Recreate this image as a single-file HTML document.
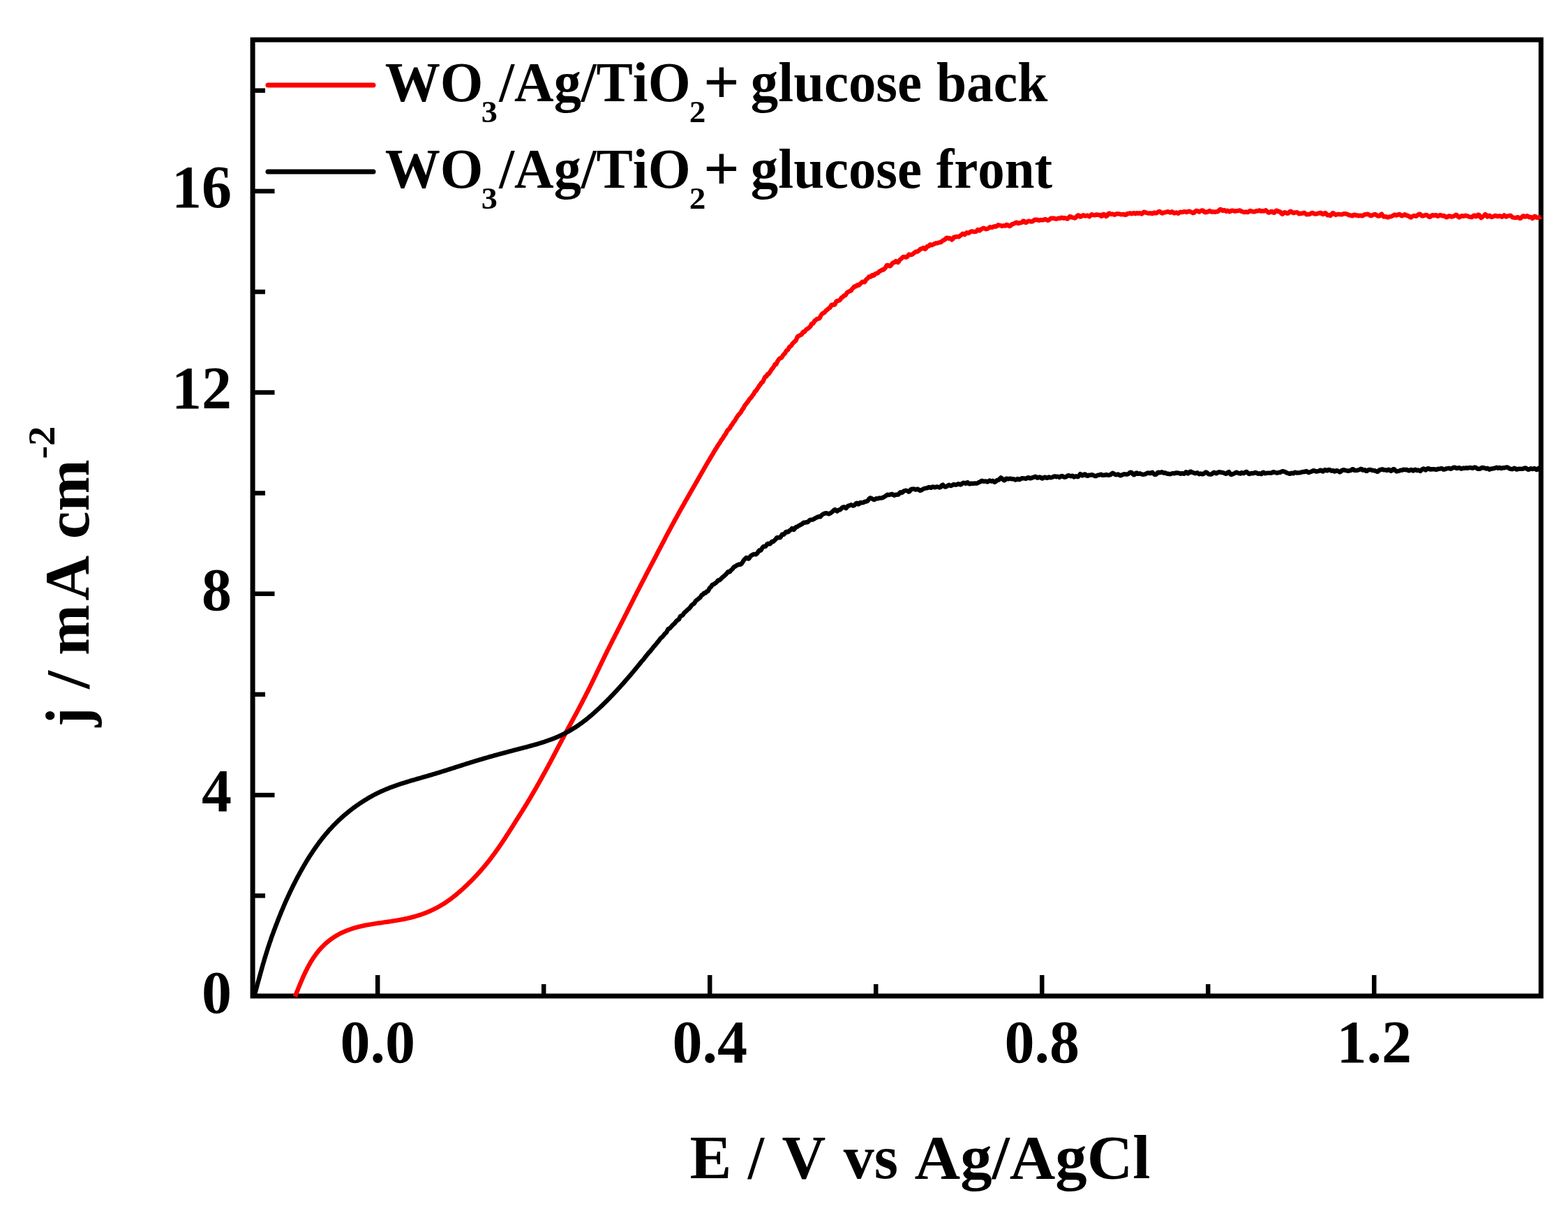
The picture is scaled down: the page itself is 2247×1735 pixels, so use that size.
<!DOCTYPE html>
<html><head><meta charset="utf-8"><title>WO3/Ag/TiO2 glucose LSV</title>
<style>
html,body{margin:0;padding:0;background:#fff;}
body{width:2247px;height:1735px;overflow:hidden;}
svg{display:block;}
text{font-family:"Liberation Serif","Times New Roman",serif;font-weight:bold;fill:#000;font-kerning:none;}
</style></head><body>
<svg xmlns="http://www.w3.org/2000/svg" width="2247" height="1735" viewBox="0 0 2247 1735">
<rect x="0" y="0" width="2247" height="1735" fill="#fff"/>
<g stroke="#000" stroke-width="6.5" fill="none">
<line x1="541.2" y1="1427.0" x2="541.2" y2="1397" />
<line x1="1017.2" y1="1427.0" x2="1017.2" y2="1397" />
<line x1="1493.2" y1="1427.0" x2="1493.2" y2="1397" />
<line x1="1969.2" y1="1427.0" x2="1969.2" y2="1397" />
<line x1="779.2" y1="1427.0" x2="779.2" y2="1410" />
<line x1="1255.2" y1="1427.0" x2="1255.2" y2="1410" />
<line x1="1731.2" y1="1427.0" x2="1731.2" y2="1410" />
<line x1="362.1" y1="1139.1" x2="393.5" y2="1139.1" />
<line x1="362.1" y1="850.7" x2="393.5" y2="850.7" />
<line x1="362.1" y1="562.3" x2="393.5" y2="562.3" />
<line x1="362.1" y1="273.9" x2="393.5" y2="273.9" />
<line x1="362.1" y1="1283.3" x2="380" y2="1283.3" />
<line x1="362.1" y1="994.9" x2="380" y2="994.9" />
<line x1="362.1" y1="706.5" x2="380" y2="706.5" />
<line x1="362.1" y1="418.1" x2="380" y2="418.1" />
<line x1="362.1" y1="129.7" x2="380" y2="129.7" />
</g>
<rect x="362.1" y="57.0" width="1846.2" height="1370.0" fill="none" stroke="#000" stroke-width="7"/>
<g fill="none" stroke-linejoin="round" stroke-linecap="butt">
<polyline points="422.8,1427.7 423.4,1426.3 423.9,1424.9 424.5,1423.5 425.1,1422.1 425.6,1420.7 426.2,1419.3 426.8,1417.9 427.3,1416.5 427.9,1415.1 428.5,1413.7 429.0,1412.3 429.6,1410.9 430.2,1409.5 430.8,1408.1 431.4,1406.7 432.0,1405.3 432.6,1403.9 433.2,1402.5 433.8,1401.1 434.4,1399.7 435.0,1398.4 435.6,1397.0 436.3,1395.6 436.9,1394.3 437.6,1392.9 438.2,1391.5 438.9,1390.2 439.6,1388.9 440.3,1387.5 440.9,1386.2 441.6,1384.9 442.4,1383.5 443.1,1382.2 443.8,1380.9 444.6,1379.6 445.3,1378.3 446.1,1377.0 446.9,1375.8 447.7,1374.5 448.5,1373.3 449.3,1372.0 450.1,1370.8 451.0,1369.6 451.9,1368.4 452.7,1367.2 453.6,1366.0 454.5,1364.8 455.5,1363.7 456.4,1362.5 457.3,1361.4 458.3,1360.3 459.3,1359.2 460.3,1358.1 461.3,1357.0 462.3,1356.0 463.4,1355.0 464.4,1353.9 465.5,1352.9 466.6,1351.9 467.6,1351.0 468.8,1350.0 469.9,1349.1 471.0,1348.1 472.2,1347.2 473.3,1346.3 474.5,1345.5 475.7,1344.6 476.9,1343.8 478.1,1343.0 479.3,1342.2 480.6,1341.4 481.8,1340.6 483.1,1339.9 484.4,1339.2 485.6,1338.5 486.9,1337.8 488.2,1337.1 489.6,1336.5 490.9,1335.9 492.2,1335.2 493.6,1334.7 494.9,1334.1 496.3,1333.5 497.7,1333.0 499.1,1332.4 500.5,1331.9 501.9,1331.4 503.3,1331.0 504.7,1330.5 506.1,1330.0 507.5,1329.6 508.9,1329.2 510.4,1328.8 511.8,1328.4 513.3,1328.0 514.7,1327.7 516.2,1327.3 517.7,1327.0 519.1,1326.6 520.6,1326.3 522.1,1326.0 523.5,1325.7 525.0,1325.4 526.5,1325.2 528.0,1324.9 529.5,1324.6 531.0,1324.4 532.5,1324.1 534.0,1323.9 535.5,1323.6 537.0,1323.4 538.5,1323.2 540.0,1322.9 541.5,1322.7 543.0,1322.5 544.5,1322.3 546.0,1322.1 547.5,1321.8 549.0,1321.6 550.5,1321.4 552.0,1321.2 553.5,1321.0 555.0,1320.8 556.5,1320.5 558.0,1320.3 559.5,1320.1 561.0,1319.9 562.5,1319.6 564.0,1319.4 565.5,1319.2 567.0,1318.9 568.5,1318.7 570.0,1318.4 571.5,1318.2 572.9,1317.9 574.4,1317.7 575.9,1317.4 577.4,1317.1 578.9,1316.8 580.3,1316.5 581.8,1316.2 583.3,1315.9 584.7,1315.5 586.2,1315.2 587.7,1314.8 589.1,1314.5 590.6,1314.1 592.0,1313.7 593.5,1313.3 594.9,1312.9 596.3,1312.5 597.8,1312.1 599.2,1311.6 600.6,1311.2 602.0,1310.7 603.4,1310.3 604.8,1309.8 606.2,1309.3 607.6,1308.7 609.0,1308.2 610.4,1307.7 611.8,1307.1 613.2,1306.6 614.5,1306.0 615.9,1305.4 617.3,1304.8 618.6,1304.2 619.9,1303.5 621.3,1302.9 622.6,1302.2 623.9,1301.6 625.3,1300.9 626.6,1300.2 627.9,1299.5 629.2,1298.8 630.5,1298.0 631.7,1297.3 633.0,1296.5 634.3,1295.8 635.6,1295.0 636.8,1294.2 638.1,1293.4 639.3,1292.5 640.5,1291.7 641.7,1290.9 643.0,1290.0 644.2,1289.1 645.4,1288.3 646.6,1287.4 647.8,1286.5 648.9,1285.5 650.1,1284.6 651.3,1283.7 652.5,1282.8 653.6,1281.8 654.8,1280.9 655.9,1279.9 657.1,1278.9 658.2,1277.9 659.3,1277.0 660.4,1276.0 661.6,1275.0 662.7,1274.0 663.8,1273.0 664.9,1271.9 666.0,1270.9 667.1,1269.9 668.2,1268.9 669.3,1267.8 670.4,1266.8 671.4,1265.7 672.5,1264.7 673.6,1263.6 674.7,1262.6 675.7,1261.5 676.8,1260.4 677.8,1259.4 678.9,1258.3 679.9,1257.2 680.9,1256.1 682.0,1255.0 683.0,1253.9 684.0,1252.8 685.0,1251.7 686.0,1250.6 687.0,1249.5 688.0,1248.4 689.0,1247.2 690.0,1246.1 691.0,1245.0 692.0,1243.8 692.9,1242.7 693.9,1241.5 694.9,1240.4 695.8,1239.2 696.8,1238.1 697.7,1236.9 698.7,1235.7 699.6,1234.6 700.5,1233.4 701.5,1232.2 702.4,1231.0 703.3,1229.8 704.2,1228.6 705.1,1227.4 706.0,1226.2 706.9,1225.0 707.8,1223.8 708.7,1222.6 709.6,1221.4 710.4,1220.2 711.3,1219.0 712.2,1217.7 713.0,1216.5 713.9,1215.3 714.8,1214.1 715.6,1212.8 716.5,1211.6 717.3,1210.3 718.2,1209.1 719.0,1207.9 719.8,1206.6 720.7,1205.4 721.5,1204.1 722.3,1202.9 723.2,1201.6 724.0,1200.4 724.8,1199.1 725.6,1197.8 726.4,1196.6 727.2,1195.3 728.1,1194.1 728.9,1192.8 729.7,1191.5 730.5,1190.3 731.3,1189.0 732.1,1187.7 732.9,1186.5 733.7,1185.2 734.5,1183.9 735.3,1182.7 736.1,1181.4 736.9,1180.1 737.7,1178.9 738.5,1177.6 739.3,1176.3 740.1,1175.1 740.9,1173.8 741.7,1172.5 742.5,1171.3 743.3,1170.0 744.1,1168.7 744.9,1167.4 745.7,1166.2 746.5,1164.9 747.3,1163.6 748.1,1162.4 748.9,1161.1 749.7,1159.8 750.5,1158.5 751.3,1157.3 752.1,1156.0 752.8,1154.7 753.6,1153.4 754.4,1152.2 755.2,1150.9 756.0,1149.6 756.7,1148.3 757.5,1147.0 758.3,1145.7 759.1,1144.5 759.8,1143.2 760.6,1141.9 761.3,1140.6 762.1,1139.3 762.9,1138.0 763.6,1136.7 764.4,1135.4 765.1,1134.1 765.9,1132.8 766.6,1131.5 767.4,1130.2 768.1,1128.9 768.9,1127.6 769.6,1126.3 770.3,1125.0 771.1,1123.7 771.8,1122.4 772.6,1121.1 773.3,1119.8 774.0,1118.5 774.8,1117.2 775.5,1115.9 776.2,1114.6 776.9,1113.2 777.7,1111.9 778.4,1110.6 779.1,1109.3 779.8,1108.0 780.6,1106.7 781.3,1105.4 782.0,1104.0 782.7,1102.7 783.4,1101.4 784.2,1100.1 784.9,1098.8 785.6,1097.5 786.3,1096.1 787.0,1094.8 787.7,1093.5 788.4,1092.2 789.1,1090.9 789.8,1089.5 790.5,1088.2 791.2,1086.9 791.9,1085.6 792.6,1084.2 793.3,1082.9 794.0,1081.6 794.7,1080.3 795.4,1078.9 796.1,1077.6 796.8,1076.3 797.5,1074.9 798.2,1073.6 798.9,1072.3 799.6,1071.0 800.3,1069.6 801.0,1068.3 801.7,1067.0 802.4,1065.6 803.1,1064.3 803.8,1063.0 804.5,1061.7 805.2,1060.3 805.9,1059.0 806.6,1057.7 807.3,1056.4 808.0,1055.0 808.7,1053.7 809.4,1052.4 810.1,1051.1 810.8,1049.7 811.5,1048.4 812.2,1047.1 812.9,1045.8 813.6,1044.5 814.3,1043.1 815.1,1041.8 815.8,1040.5 816.5,1039.2 817.2,1037.9 817.9,1036.5 818.6,1035.2 819.3,1033.9 820.1,1032.6 820.8,1031.3 821.5,1030.0 822.2,1028.6 822.9,1027.3 823.6,1026.0 824.3,1024.7 825.1,1023.4 825.8,1022.0 826.5,1020.7 827.2,1019.4 827.9,1018.1 828.6,1016.8 829.3,1015.4 830.0,1014.1 830.7,1012.8 831.4,1011.4 832.1,1010.1 832.8,1008.8 833.5,1007.5 834.2,1006.1 834.9,1004.8 835.6,1003.5 836.2,1002.1 836.9,1000.8 837.6,999.5 838.3,998.1 839.0,996.8 839.7,995.5 840.3,994.1 841.0,992.8 841.7,991.5 842.4,990.1 843.0,988.8 843.7,987.4 844.4,986.1 845.0,984.7 845.7,983.4 846.4,982.1 847.0,980.7 847.7,979.4 848.4,978.0 849.0,976.7 849.7,975.3 850.3,974.0 851.0,972.6 851.6,971.3 852.3,969.9 852.9,968.6 853.6,967.2 854.2,965.9 854.9,964.5 855.5,963.2 856.2,961.8 856.8,960.5 857.5,959.1 858.1,957.8 858.8,956.4 859.4,955.0 860.1,953.7 860.7,952.3 861.4,951.0 862.0,949.6 862.7,948.3 863.3,946.9 864.0,945.6 864.6,944.2 865.3,942.9 865.9,941.5 866.6,940.2 867.2,938.8 867.9,937.5 868.6,936.2 869.2,934.8 869.9,933.5 870.5,932.1 871.2,930.8 871.9,929.4 872.6,928.1 873.2,926.8 873.9,925.4 874.6,924.1 875.2,922.7 875.9,921.4 876.6,920.1 877.3,918.7 877.9,917.4 878.6,916.0 879.3,914.7 880.0,913.4 880.7,912.0 881.3,910.7 882.0,909.4 882.7,908.0 883.4,906.7 884.1,905.4 884.7,904.0 885.4,902.7 886.1,901.3 886.8,900.0 887.5,898.7 888.2,897.3 888.8,896.0 889.5,894.7 890.2,893.3 890.9,892.0 891.6,890.7 892.2,889.3 892.9,888.0 893.6,886.7 894.3,885.3 895.0,884.0 895.6,882.6 896.3,881.3 897.0,880.0 897.7,878.6 898.3,877.3 899.0,876.0 899.7,874.6 900.4,873.3 901.0,871.9 901.7,870.6 902.4,869.3 903.1,867.9 903.7,866.6 904.4,865.2 905.1,863.9 905.8,862.6 906.4,861.2 907.1,859.9 907.8,858.6 908.5,857.2 909.1,855.9 909.8,854.5 910.5,853.2 911.2,851.9 911.9,850.5 912.5,849.2 913.2,847.9 913.9,846.5 914.6,845.2 915.3,843.9 916.0,842.5 916.7,841.2 917.3,839.9 918.0,838.5 918.7,837.2 919.4,835.9 920.1,834.5 920.8,833.2 921.5,831.9 922.2,830.5 922.9,829.2 923.6,827.9 924.3,826.5 925.0,825.2 925.6,823.9 926.3,822.6 927.0,821.2 927.7,819.9 928.4,818.6 929.1,817.2 929.8,815.9 930.5,814.6 931.2,813.3 931.9,811.9 932.6,810.6 933.3,809.3 934.0,807.9 934.7,806.6 935.4,805.3 936.1,804.0 936.8,802.6 937.5,801.3 938.2,800.0 938.9,798.7 939.6,797.3 940.3,796.0 941.0,794.7 941.7,793.3 942.4,792.0 943.0,790.7 943.7,789.3 944.4,788.0 945.1,786.7 945.8,785.4 946.5,784.0 947.2,782.7 947.9,781.4 948.6,780.0 949.3,778.7 950.0,777.4 950.7,776.1 951.4,774.7 952.1,773.4 952.8,772.1 953.4,770.7 954.1,769.4 954.8,768.1 955.5,766.8 956.2,765.4 956.9,764.1 957.6,762.8 958.4,761.5 959.1,760.1 959.8,758.8 960.5,757.5 961.2,756.2 961.9,754.8 962.6,753.5 963.3,752.2 964.0,750.9 964.7,749.6 965.5,748.3 966.2,746.9 966.9,745.6 967.6,744.3 968.4,743.0 969.1,741.7 969.8,740.4 970.5,739.1 971.3,737.7 972.0,736.4 972.7,735.1 973.4,733.8 974.2,732.5 974.9,731.2 975.6,729.9 976.4,728.6 977.1,727.3 977.9,726.0 978.6,724.7 979.3,723.4 980.1,722.1 980.8,720.8 981.6,719.4 982.3,718.1 983.0,716.8 983.8,715.5 984.5,714.2 985.3,712.9 986.0,711.6 986.8,710.3 987.5,709.0 988.2,707.7 989.0,706.4 989.7,705.1 990.5,703.8 991.2,702.5 992.0,701.2 992.7,699.9 993.5,698.6 994.2,697.3 995.0,696.0 995.7,694.7 996.4,693.4 997.2,692.1 997.9,690.8 998.7,689.5 999.4,688.2 1000.2,686.9 1000.9,685.6 1001.7,684.3 1002.4,683.0 1003.1,681.7 1003.9,680.4 1004.6,679.1 1005.4,677.8 1006.1,676.4 1006.9,675.1 1007.6,673.9 1008.4,672.6 1009.1,671.2 1009.8,670.0 1010.6,668.7 1011.3,667.4 1012.1,666.0 1012.8,664.8 1013.6,663.6 1014.3,662.2 1015.1,660.9 1015.9,659.7 1016.6,658.5 1017.4,657.2 1018.1,655.8 1018.9,654.4 1019.7,653.2 1020.4,651.9 1021.2,650.8 1022.0,649.7 1022.7,648.2 1023.5,646.8 1024.3,645.5 1025.1,644.1 1025.9,643.0 1026.7,641.8 1027.5,640.4 1028.3,639.0 1029.1,637.7 1029.9,636.5 1030.7,635.4 1031.5,634.4 1032.3,633.1 1033.1,631.5 1033.9,630.2 1034.7,629.4 1035.6,628.3 1036.4,626.8 1037.2,625.4 1038.1,624.1 1038.9,622.9 1039.7,621.9 1040.6,620.4 1041.4,618.7 1042.2,617.2 1043.1,616.0 1043.9,615.3 1044.8,614.6 1045.6,613.7 1046.5,612.3 1047.3,610.6 1048.2,609.3 1049.0,608.4 1049.9,607.0 1050.7,605.6 1051.6,604.5 1052.4,603.5 1053.3,602.3 1054.2,600.7 1055.0,599.2 1055.9,597.9 1056.7,596.6 1057.6,595.3 1058.5,594.3 1059.3,593.4 1060.2,592.4 1061.1,591.4 1061.9,590.2 1062.8,588.5 1063.7,586.9 1064.5,586.0 1065.4,584.9 1066.3,582.9 1067.1,581.4 1068.0,580.2 1068.9,579.1 1069.7,578.0 1070.6,576.9 1071.5,575.8 1072.4,574.4 1073.2,573.2 1074.1,572.0 1075.0,570.9 1075.9,570.2 1076.7,569.1 1077.6,567.7 1078.5,566.4 1079.4,565.4 1080.3,564.3 1081.1,562.3 1082.0,560.8 1082.9,560.3 1083.8,559.5 1084.7,558.1 1085.5,556.8 1086.4,555.5 1087.3,554.0 1088.2,552.5 1089.1,551.5 1090.0,550.5 1090.8,548.9 1091.7,547.9 1092.6,547.7 1093.5,546.4 1094.4,544.3 1095.3,542.3 1096.2,540.2 1097.0,539.4 1097.9,539.5 1098.8,538.5 1099.7,536.3 1100.6,535.6 1101.5,535.8 1102.4,534.6 1103.3,533.1 1104.2,531.9 1105.1,530.2 1106.0,528.9 1106.9,528.2 1107.8,526.8 1108.7,525.3 1109.6,524.1 1110.5,522.0 1111.4,521.6 1112.3,521.9 1113.2,520.1 1114.1,518.0 1115.1,516.4 1116.0,515.0 1116.9,513.9 1117.9,513.1 1118.8,513.1 1119.7,512.7 1120.7,511.5 1121.6,509.9 1122.6,508.3 1123.6,507.4 1124.5,506.6 1125.5,505.1 1126.5,503.1 1127.4,502.1 1128.4,501.8 1129.4,500.6 1130.4,498.6 1131.4,496.9 1132.4,496.2 1133.4,495.8 1134.4,494.6 1135.4,492.7 1136.4,491.6 1137.5,490.6 1138.5,489.4 1139.5,488.9 1140.5,487.8 1141.6,485.4 1142.6,482.8 1143.6,481.7 1144.7,481.5 1145.7,480.8 1146.8,480.1 1147.8,479.8 1148.9,479.0 1150.0,476.8 1151.0,475.6 1152.1,475.9 1153.1,475.2 1154.2,473.7 1155.3,472.2 1156.4,471.5 1157.4,471.1 1158.5,470.2 1159.6,469.1 1160.7,468.3 1161.7,467.0 1162.8,464.3 1163.9,463.4 1165.0,463.6 1166.1,462.1 1167.2,459.9 1168.3,458.9 1169.4,458.5 1170.5,457.1 1171.6,456.7 1172.7,456.6 1173.8,456.3 1174.9,455.1 1176.0,452.6 1177.1,450.8 1178.2,449.6 1179.3,448.7 1180.4,448.6 1181.5,447.9 1182.6,446.3 1183.8,445.0 1184.9,444.1 1186.0,443.3 1187.1,442.1 1188.2,441.3 1189.4,440.9 1190.5,438.7 1191.6,436.8 1192.8,437.2 1193.9,436.5 1195.0,436.1 1196.2,436.5 1197.3,434.4 1198.5,431.6 1199.6,431.1 1200.8,431.0 1201.9,430.5 1203.1,430.4 1204.2,429.2 1205.4,427.0 1206.5,426.2 1207.7,425.7 1208.9,424.1 1210.0,423.2 1211.2,423.2 1212.4,421.7 1213.6,419.5 1214.8,418.5 1215.9,418.2 1217.1,417.3 1218.3,416.9 1219.5,416.5 1220.7,414.5 1221.9,413.1 1223.1,412.2 1224.3,410.3 1225.5,410.1 1226.7,410.2 1227.9,408.7 1229.1,408.2 1230.4,408.8 1231.6,408.0 1232.8,406.6 1234.0,405.4 1235.3,404.3 1236.5,403.6 1237.7,403.9 1239.0,404.2 1240.2,402.5 1241.4,400.3 1242.7,399.4 1243.9,398.2 1245.2,396.5 1246.4,396.5 1247.7,396.6 1249.0,394.7 1250.2,394.0 1251.5,395.0 1252.8,394.3 1254.0,392.6 1255.3,392.1 1256.6,391.6 1257.9,391.3 1259.1,390.1 1260.4,388.6 1261.7,388.3 1263.0,387.3 1264.3,386.5 1265.6,386.6 1266.9,385.6 1268.2,384.4 1269.5,382.4 1270.8,380.2 1272.1,379.9 1273.4,380.6 1274.7,381.3 1276.0,381.1 1277.3,379.3 1278.7,377.3 1280.0,376.1 1281.3,376.1 1282.6,375.1 1283.9,374.0 1285.3,375.0 1286.6,376.0 1287.9,374.9 1289.3,372.5 1290.6,371.3 1291.9,370.4 1293.3,368.9 1294.6,368.0 1295.9,368.0 1297.3,368.4 1298.6,368.7 1300.0,368.0 1301.3,365.9 1302.7,364.5 1304.0,364.9 1305.4,365.0 1306.7,364.8 1308.1,364.0 1309.5,362.7 1310.8,361.8 1312.2,360.7 1313.5,360.5 1314.9,360.5 1316.3,359.5 1317.6,358.2 1319.0,356.8 1320.4,356.4 1321.8,356.2 1323.2,355.0 1324.5,355.5 1325.9,356.8 1327.3,355.4 1328.7,353.0 1330.1,352.8 1331.5,352.4 1332.9,350.4 1334.3,350.5 1335.6,351.2 1337.0,350.5 1338.4,349.7 1339.8,348.8 1341.2,348.5 1342.7,348.4 1344.1,347.9 1345.5,347.4 1346.9,347.3 1348.3,347.1 1349.7,345.8 1351.1,344.6 1352.5,344.2 1353.9,343.3 1355.4,341.7 1356.8,340.6 1358.2,341.1 1359.6,341.8 1361.0,341.3 1362.5,341.9 1363.9,343.5 1365.3,342.4 1366.7,340.0 1368.2,339.5 1369.6,339.6 1371.0,339.0 1372.5,339.1 1373.9,339.2 1375.3,338.3 1376.8,337.1 1378.2,336.1 1379.6,334.8 1381.1,335.1 1382.5,336.1 1383.9,334.9 1385.4,333.3 1386.8,333.8 1388.2,334.0 1389.7,332.8 1391.1,331.8 1392.6,331.4 1394.0,331.6 1395.4,332.1 1396.9,332.1 1398.3,331.9 1399.8,330.7 1401.2,329.1 1402.7,329.9 1404.1,330.4 1405.6,328.8 1407.0,327.9 1408.5,327.2 1409.9,326.8 1411.4,327.6 1412.9,328.2 1414.3,328.0 1415.8,327.5 1417.2,326.5 1418.7,325.3 1420.2,325.8 1421.6,325.9 1423.1,325.1 1424.6,324.4 1426.0,324.3 1427.5,324.6 1429.0,323.3 1430.4,322.3 1431.9,322.8 1433.4,322.9 1434.9,323.5 1436.3,324.0 1437.8,323.2 1439.3,323.4 1440.8,323.6 1442.3,322.0 1443.7,322.1 1445.2,323.4 1446.7,324.0 1448.2,323.4 1449.7,321.7 1451.2,321.0 1452.6,320.6 1454.1,319.8 1455.6,318.9 1457.1,318.7 1458.6,319.8 1460.0,320.0 1461.5,319.2 1463.0,319.2 1464.5,318.5 1466.0,316.7 1467.5,316.6 1468.9,318.5 1470.4,319.1 1471.9,317.9 1473.4,316.8 1474.9,316.6 1476.4,317.2 1477.8,317.5 1479.3,317.4 1480.8,316.5 1482.3,314.8 1483.8,314.6 1485.3,315.1 1486.7,314.8 1488.2,315.6 1489.7,315.8 1491.2,314.9 1492.7,315.1 1494.2,315.4 1495.6,314.9 1497.1,314.2 1498.6,314.2 1500.1,315.2 1501.6,315.9 1503.1,315.3 1504.6,313.8 1506.0,312.7 1507.5,312.7 1509.0,312.6 1510.5,312.7 1512.0,313.3 1513.5,313.7 1515.0,313.4 1516.5,312.7 1517.9,312.7 1519.4,312.7 1520.9,311.8 1522.4,312.0 1523.9,312.7 1525.4,312.3 1526.9,312.4 1528.4,313.1 1529.9,313.6 1531.4,312.1 1532.9,310.1 1534.4,310.3 1535.9,311.3 1537.4,311.6 1538.9,312.0 1540.4,312.6 1541.8,311.5 1543.3,309.5 1544.8,308.4 1546.3,308.9 1547.8,310.5 1549.3,310.4 1550.8,309.0 1552.3,308.2 1553.8,308.8 1555.3,309.5 1556.8,309.1 1558.3,308.6 1559.8,309.4 1561.3,310.3 1562.8,308.8 1564.3,307.3 1565.8,307.7 1567.3,308.2 1568.8,308.4 1570.3,307.9 1571.8,307.4 1573.3,307.9 1574.8,308.0 1576.3,308.0 1577.8,309.8 1579.3,309.5 1580.8,307.0 1582.3,307.2 1583.8,309.0 1585.3,309.9 1586.8,308.8 1588.3,306.2 1589.7,305.5 1591.2,306.6 1592.7,307.0 1594.2,306.6 1595.7,307.1 1597.2,307.7 1598.7,307.1 1600.2,306.1 1601.7,306.3 1603.2,306.5 1604.7,306.7 1606.2,307.2 1607.7,307.2 1609.2,307.1 1610.7,307.0 1612.2,307.9 1613.7,307.7 1615.2,306.1 1616.7,306.0 1618.2,305.8 1619.7,305.4 1621.2,306.2 1622.7,306.1 1624.2,305.1 1625.7,305.6 1627.2,306.2 1628.7,305.3 1630.2,305.4 1631.7,305.9 1633.2,305.3 1634.7,305.5 1636.2,306.5 1637.6,305.5 1639.1,303.8 1640.6,303.9 1642.1,304.6 1643.6,305.0 1645.1,305.5 1646.6,305.6 1648.1,305.3 1649.6,305.5 1651.1,306.2 1652.6,305.4 1654.1,304.5 1655.6,305.4 1657.1,305.4 1658.6,304.3 1660.1,303.3 1661.6,302.9 1663.1,303.7 1664.6,305.2 1666.1,305.6 1667.6,304.7 1669.1,304.4 1670.6,304.2 1672.1,303.5 1673.6,303.1 1675.1,303.7 1676.6,304.6 1678.1,304.1 1679.5,303.3 1681.0,304.2 1682.5,305.3 1684.0,305.3 1685.5,304.4 1687.0,305.1 1688.5,305.8 1690.0,304.5 1691.5,303.8 1693.0,304.1 1694.5,303.8 1696.0,303.5 1697.5,303.2 1699.0,303.4 1700.5,304.1 1702.0,303.4 1703.5,302.7 1705.0,303.0 1706.5,303.6 1708.0,304.2 1709.5,305.2 1711.0,304.9 1712.5,303.1 1714.0,302.0 1715.5,301.9 1717.0,303.0 1718.5,303.6 1719.9,302.6 1721.4,301.8 1722.9,301.4 1724.4,301.8 1725.9,303.8 1727.4,304.4 1728.9,303.5 1730.4,303.8 1731.9,302.9 1733.4,301.9 1734.9,303.0 1736.4,303.8 1737.9,303.3 1739.4,303.4 1740.9,303.8 1742.4,303.4 1743.9,303.3 1745.4,303.0 1746.9,301.4 1748.4,300.0 1749.9,300.2 1751.4,301.7 1752.9,301.9 1754.4,300.9 1755.9,301.8 1757.3,302.7 1758.8,301.8 1760.3,302.3 1761.8,303.3 1763.3,302.7 1764.8,301.7 1766.3,301.6 1767.8,302.0 1769.3,302.7 1770.8,302.5 1772.3,302.1 1773.8,302.1 1775.3,301.7 1776.8,301.4 1778.3,302.4 1779.7,303.1 1781.2,303.4 1782.7,304.0 1784.2,303.8 1785.7,303.5 1787.2,304.0 1788.7,304.0 1790.2,302.6 1791.7,301.9 1793.2,302.5 1794.7,303.0 1796.1,303.3 1797.6,303.4 1799.1,302.9 1800.6,302.2 1802.1,302.4 1803.6,301.9 1805.1,301.4 1806.6,302.5 1808.1,302.5 1809.5,302.1 1811.0,302.5 1812.5,301.9 1814.0,301.3 1815.5,302.5 1817.0,304.2 1818.5,304.7 1820.0,304.0 1821.4,302.9 1822.9,303.0 1824.4,304.4 1825.9,304.8 1827.4,303.4 1828.9,301.7 1830.4,302.0 1831.9,303.2 1833.4,303.0 1834.8,303.7 1836.3,305.9 1837.8,306.9 1839.3,305.3 1840.8,304.2 1842.3,304.6 1843.8,305.4 1845.3,305.9 1846.8,305.2 1848.2,303.3 1849.7,302.7 1851.2,303.8 1852.7,304.9 1854.2,305.2 1855.7,304.5 1857.2,304.4 1858.7,304.3 1860.2,304.9 1861.7,306.4 1863.2,306.1 1864.7,305.7 1866.2,305.7 1867.7,305.1 1869.1,304.8 1870.6,305.8 1872.1,307.3 1873.6,307.2 1875.1,307.0 1876.6,307.0 1878.1,306.2 1879.6,305.2 1881.1,304.9 1882.6,306.0 1884.1,306.5 1885.6,306.5 1887.1,306.4 1888.6,305.6 1890.1,305.5 1891.6,305.0 1893.1,304.9 1894.6,306.5 1896.1,307.1 1897.6,305.8 1899.1,304.9 1900.6,306.2 1902.1,308.2 1903.6,308.3 1905.1,308.3 1906.6,309.0 1908.1,307.2 1909.6,305.3 1911.1,305.4 1912.6,306.9 1914.1,307.9 1915.6,307.1 1917.1,306.9 1918.6,307.0 1920.1,307.0 1921.6,307.4 1923.1,307.3 1924.6,306.6 1926.1,306.2 1927.6,306.3 1929.1,306.4 1930.6,306.8 1932.1,307.7 1933.5,308.2 1935.0,308.3 1936.5,309.0 1938.0,309.4 1939.5,308.0 1941.0,307.6 1942.5,308.5 1944.0,308.3 1945.5,308.7 1947.0,309.3 1948.5,308.7 1950.0,308.6 1951.5,309.4 1953.0,309.1 1954.5,307.8 1956.0,307.3 1957.5,307.2 1959.0,306.8 1960.5,306.9 1962.0,307.6 1963.5,308.9 1965.0,309.2 1966.5,308.4 1968.0,307.7 1969.5,307.1 1971.0,307.0 1972.5,308.1 1974.0,309.2 1975.5,309.6 1977.0,309.3 1978.5,307.6 1980.0,306.7 1981.5,308.9 1983.0,310.6 1984.5,310.4 1986.0,310.3 1987.5,311.1 1989.0,311.5 1990.5,310.7 1992.0,310.4 1993.5,310.3 1995.0,309.5 1996.5,308.7 1998.0,307.8 1999.5,307.8 2001.0,308.5 2002.5,308.1 2004.0,307.2 2005.5,307.0 2007.0,308.0 2008.5,309.3 2010.0,309.1 2011.5,308.1 2013.0,307.2 2014.5,307.7 2016.0,309.0 2017.5,309.0 2019.0,309.5 2020.5,311.1 2022.0,311.5 2023.5,310.3 2025.0,309.5 2026.5,309.0 2028.0,309.4 2029.5,309.8 2031.0,308.6 2032.5,307.4 2034.0,306.6 2035.5,307.1 2037.0,308.9 2038.5,309.6 2040.0,309.2 2041.5,308.5 2043.0,308.0 2044.5,308.1 2046.0,308.9 2047.5,310.4 2049.0,310.9 2050.5,309.8 2052.0,308.4 2053.5,308.2 2055.0,308.9 2056.5,308.3 2058.0,308.1 2059.5,309.6 2061.0,309.7 2062.5,308.6 2064.0,308.1 2065.5,308.6 2067.0,309.3 2068.5,309.0 2070.0,309.3 2071.5,310.7 2073.0,311.4 2074.5,310.7 2076.0,309.5 2077.5,309.4 2079.0,310.4 2080.5,310.5 2082.0,309.8 2083.5,309.8 2085.0,309.0 2086.5,307.7 2088.0,308.4 2089.5,310.4 2091.0,311.4 2092.5,310.7 2094.0,309.4 2095.5,309.2 2097.0,309.9 2098.5,309.5 2100.0,308.7 2101.5,309.2 2103.0,309.6 2104.5,310.1 2106.0,310.7 2107.5,310.9 2109.0,311.2 2110.5,310.3 2112.0,308.7 2113.5,308.8 2115.0,310.3 2116.5,309.8 2118.0,307.7 2119.5,307.7 2121.0,310.5 2122.5,312.2 2124.0,311.2 2125.5,309.9 2127.0,308.6 2128.5,307.1 2130.0,308.1 2131.5,310.4 2133.0,309.9 2134.5,308.7 2136.0,310.0 2137.5,311.0 2139.0,310.6 2140.5,309.9 2142.0,309.1 2143.5,308.9 2145.0,309.8 2146.5,310.1 2148.0,309.4 2149.5,309.4 2151.0,309.8 2152.5,310.8 2154.0,310.0 2155.5,308.4 2157.0,309.6 2158.5,310.6 2160.0,309.7 2161.5,309.4 2163.0,309.2 2164.5,308.8 2166.0,310.0 2167.5,311.4 2169.0,311.7 2170.5,311.9 2172.0,312.0 2173.5,311.6 2175.0,311.1 2176.5,311.7 2178.0,312.8 2179.4,312.5 2180.9,310.9 2182.4,309.5 2183.9,309.5 2185.4,310.5 2186.9,310.2 2188.4,309.3 2189.9,310.2 2191.4,311.2 2192.9,310.9 2194.4,311.4 2195.9,312.9 2197.4,312.0 2198.9,309.9 2200.4,310.2 2201.9,311.7 2203.4,311.9 2204.9,311.5 2206.4,311.2 2207.9,310.9 2208.0,310.8" stroke="#ff0000" stroke-width="6.4"/>
<polyline points="364.4,1427.0 364.8,1425.5 365.2,1424.1 365.6,1422.6 366.0,1421.2 366.4,1419.7 366.8,1418.3 367.2,1416.8 367.6,1415.4 368.0,1413.9 368.3,1412.5 368.7,1411.0 369.1,1409.6 369.5,1408.2 369.9,1406.7 370.3,1405.3 370.7,1403.8 371.1,1402.4 371.5,1400.9 371.9,1399.5 372.3,1398.0 372.7,1396.6 373.1,1395.1 373.5,1393.7 373.9,1392.2 374.3,1390.8 374.7,1389.3 375.1,1387.9 375.5,1386.5 375.9,1385.0 376.3,1383.6 376.7,1382.1 377.1,1380.7 377.6,1379.2 378.0,1377.8 378.4,1376.4 378.8,1374.9 379.2,1373.5 379.7,1372.1 380.1,1370.6 380.5,1369.2 381.0,1367.8 381.4,1366.3 381.9,1364.9 382.3,1363.5 382.8,1362.0 383.2,1360.6 383.7,1359.2 384.1,1357.7 384.6,1356.3 385.1,1354.9 385.5,1353.5 386.0,1352.1 386.5,1350.6 387.0,1349.2 387.5,1347.8 388.0,1346.4 388.4,1345.0 388.9,1343.5 389.4,1342.1 389.9,1340.7 390.4,1339.3 391.0,1337.9 391.5,1336.5 392.0,1335.1 392.5,1333.7 393.0,1332.3 393.5,1330.9 394.1,1329.5 394.6,1328.1 395.1,1326.7 395.7,1325.3 396.2,1323.9 396.8,1322.5 397.3,1321.1 397.8,1319.7 398.4,1318.3 398.9,1316.9 399.5,1315.5 400.0,1314.1 400.6,1312.7 401.2,1311.3 401.7,1309.9 402.3,1308.5 402.9,1307.1 403.4,1305.7 404.0,1304.4 404.6,1303.0 405.2,1301.6 405.8,1300.2 406.3,1298.8 406.9,1297.4 407.5,1296.1 408.1,1294.7 408.7,1293.3 409.3,1291.9 409.9,1290.6 410.5,1289.2 411.2,1287.8 411.8,1286.5 412.4,1285.1 413.0,1283.7 413.7,1282.4 414.3,1281.0 414.9,1279.7 415.6,1278.3 416.2,1276.9 416.9,1275.6 417.5,1274.2 418.2,1272.9 418.8,1271.5 419.5,1270.2 420.2,1268.8 420.8,1267.5 421.5,1266.2 422.2,1264.8 422.9,1263.5 423.6,1262.1 424.2,1260.8 424.9,1259.5 425.6,1258.2 426.3,1256.8 427.0,1255.5 427.7,1254.2 428.5,1252.9 429.2,1251.5 429.9,1250.2 430.6,1248.9 431.4,1247.6 432.1,1246.3 432.8,1245.0 433.6,1243.7 434.3,1242.4 435.1,1241.1 435.8,1239.8 436.6,1238.5 437.4,1237.2 438.1,1235.9 438.9,1234.6 439.7,1233.3 440.5,1232.0 441.2,1230.8 442.0,1229.5 442.8,1228.2 443.6,1226.9 444.4,1225.7 445.3,1224.4 446.1,1223.2 446.9,1221.9 447.7,1220.7 448.6,1219.4 449.4,1218.2 450.3,1216.9 451.1,1215.7 452.0,1214.5 452.8,1213.2 453.7,1212.0 454.6,1210.8 455.5,1209.6 456.3,1208.4 457.2,1207.2 458.1,1206.0 459.0,1204.8 460.0,1203.6 460.9,1202.4 461.8,1201.2 462.7,1200.0 463.7,1198.9 464.6,1197.7 465.6,1196.5 466.5,1195.4 467.5,1194.2 468.5,1193.1 469.5,1192.0 470.4,1190.8 471.4,1189.7 472.4,1188.6 473.4,1187.5 474.5,1186.4 475.5,1185.3 476.5,1184.2 477.5,1183.1 478.6,1182.0 479.6,1181.0 480.7,1179.9 481.8,1178.8 482.8,1177.8 483.9,1176.7 485.0,1175.7 486.1,1174.7 487.2,1173.6 488.3,1172.6 489.4,1171.6 490.5,1170.6 491.6,1169.6 492.7,1168.6 493.9,1167.7 495.0,1166.7 496.2,1165.7 497.3,1164.8 498.5,1163.8 499.6,1162.9 500.8,1161.9 502.0,1161.0 503.2,1160.1 504.3,1159.2 505.5,1158.3 506.7,1157.4 507.9,1156.5 509.2,1155.6 510.4,1154.7 511.6,1153.9 512.8,1153.0 514.1,1152.2 515.3,1151.3 516.5,1150.5 517.8,1149.7 519.0,1148.9 520.3,1148.1 521.5,1147.3 522.8,1146.5 524.1,1145.7 525.4,1144.9 526.6,1144.1 527.9,1143.4 529.2,1142.6 530.5,1141.9 531.8,1141.2 533.1,1140.4 534.4,1139.7 535.7,1139.0 537.0,1138.3 538.4,1137.6 539.7,1137.0 541.0,1136.3 542.4,1135.7 543.7,1135.0 545.0,1134.4 546.4,1133.8 547.8,1133.2 549.1,1132.6 550.5,1132.0 551.9,1131.4 553.2,1130.8 554.6,1130.2 556.0,1129.7 557.4,1129.1 558.8,1128.6 560.2,1128.1 561.6,1127.5 563.0,1127.0 564.4,1126.5 565.8,1126.0 567.2,1125.5 568.6,1125.0 570.0,1124.5 571.4,1124.0 572.9,1123.6 574.3,1123.1 575.7,1122.6 577.1,1122.2 578.6,1121.7 580.0,1121.3 581.4,1120.8 582.9,1120.4 584.3,1119.9 585.7,1119.5 587.2,1119.1 588.6,1118.6 590.0,1118.2 591.5,1117.8 592.9,1117.4 594.4,1117.0 595.8,1116.5 597.3,1116.1 598.7,1115.7 600.1,1115.3 601.6,1114.9 603.0,1114.5 604.5,1114.0 605.9,1113.6 607.4,1113.2 608.8,1112.8 610.3,1112.4 611.7,1112.0 613.1,1111.6 614.6,1111.1 616.0,1110.7 617.5,1110.3 618.9,1109.9 620.4,1109.4 621.8,1109.0 623.2,1108.6 624.7,1108.1 626.1,1107.7 627.5,1107.3 629.0,1106.8 630.4,1106.4 631.8,1105.9 633.3,1105.5 634.7,1105.0 636.1,1104.6 637.6,1104.2 639.0,1103.7 640.4,1103.3 641.9,1102.8 643.3,1102.3 644.7,1101.9 646.2,1101.4 647.6,1101.0 649.0,1100.5 650.4,1100.1 651.9,1099.6 653.3,1099.1 654.7,1098.7 656.2,1098.2 657.6,1097.8 659.0,1097.3 660.4,1096.9 661.9,1096.4 663.3,1095.9 664.7,1095.5 666.2,1095.0 667.6,1094.6 669.0,1094.1 670.4,1093.7 671.9,1093.2 673.3,1092.8 674.7,1092.3 676.2,1091.9 677.6,1091.4 679.0,1091.0 680.5,1090.6 681.9,1090.1 683.3,1089.7 684.8,1089.3 686.2,1088.8 687.7,1088.4 689.1,1088.0 690.5,1087.6 692.0,1087.1 693.4,1086.7 694.8,1086.3 696.3,1085.9 697.7,1085.5 699.2,1085.1 700.6,1084.6 702.1,1084.2 703.5,1083.8 704.9,1083.4 706.4,1083.0 707.8,1082.6 709.3,1082.2 710.7,1081.8 712.2,1081.4 713.6,1081.0 715.1,1080.6 716.5,1080.2 718.0,1079.8 719.4,1079.4 720.9,1079.1 722.3,1078.7 723.8,1078.3 725.2,1077.9 726.7,1077.5 728.1,1077.1 729.6,1076.7 731.0,1076.3 732.5,1076.0 733.9,1075.6 735.4,1075.2 736.8,1074.8 738.3,1074.4 739.7,1074.0 741.2,1073.7 742.6,1073.3 744.1,1072.9 745.6,1072.5 747.0,1072.2 748.5,1071.8 749.9,1071.4 751.4,1071.0 752.8,1070.6 754.3,1070.3 755.7,1069.9 757.2,1069.5 758.6,1069.1 760.1,1068.7 761.5,1068.3 763.0,1067.9 764.4,1067.5 765.9,1067.1 767.3,1066.7 768.8,1066.3 770.2,1065.9 771.6,1065.4 773.1,1065.0 774.5,1064.6 775.9,1064.1 777.3,1063.7 778.8,1063.2 780.2,1062.8 781.6,1062.3 783.0,1061.8 784.4,1061.3 785.9,1060.8 787.3,1060.3 788.7,1059.8 790.1,1059.3 791.5,1058.7 792.8,1058.2 794.2,1057.7 795.6,1057.1 797.0,1056.5 798.4,1055.9 799.7,1055.4 801.1,1054.7 802.4,1054.1 803.8,1053.5 805.1,1052.9 806.5,1052.2 807.8,1051.6 809.1,1050.9 810.4,1050.2 811.8,1049.5 813.1,1048.8 814.4,1048.1 815.7,1047.4 816.9,1046.6 818.2,1045.9 819.5,1045.1 820.8,1044.3 822.0,1043.6 823.3,1042.8 824.5,1042.0 825.8,1041.2 827.0,1040.3 828.3,1039.5 829.5,1038.7 830.7,1037.8 831.9,1036.9 833.1,1036.1 834.3,1035.2 835.5,1034.3 836.7,1033.4 837.9,1032.5 839.1,1031.6 840.3,1030.7 841.4,1029.7 842.6,1028.8 843.7,1027.8 844.9,1026.9 846.0,1025.9 847.2,1025.0 848.3,1024.0 849.4,1023.0 850.6,1022.0 851.7,1021.0 852.8,1020.1 853.9,1019.0 855.0,1018.0 856.1,1017.0 857.2,1016.0 858.3,1015.0 859.4,1014.0 860.5,1012.9 861.6,1011.9 862.7,1010.9 863.8,1009.8 864.8,1008.8 865.9,1007.7 867.0,1006.7 868.1,1005.6 869.1,1004.6 870.2,1003.5 871.2,1002.4 872.3,1001.4 873.3,1000.3 874.4,999.2 875.4,998.1 876.5,997.0 877.5,996.0 878.5,994.9 879.6,993.8 880.6,992.7 881.6,991.6 882.7,990.5 883.7,989.4 884.7,988.3 885.7,987.2 886.7,986.1 887.7,985.0 888.7,983.9 889.8,982.7 890.8,981.6 891.8,980.5 892.8,979.4 893.8,978.3 894.8,977.1 895.7,976.0 896.7,974.9 897.7,973.7 898.7,972.6 899.7,971.5 900.7,970.3 901.6,969.2 902.6,968.1 903.6,966.9 904.6,965.8 905.5,964.6 906.5,963.5 907.5,962.3 908.4,961.2 909.4,960.1 910.3,958.9 911.3,957.7 912.3,956.6 913.2,955.4 914.2,954.1 915.1,953.0 916.1,951.9 917.0,950.8 918.0,949.6 918.9,948.3 919.9,947.2 920.8,946.2 921.8,945.2 922.7,943.9 923.7,942.7 924.6,941.5 925.6,940.2 926.5,939.0 927.5,937.9 928.4,936.8 929.4,935.6 930.3,934.4 931.3,933.6 932.2,932.5 933.2,931.2 934.1,929.9 935.1,928.9 936.0,927.6 937.0,926.3 938.0,925.4 938.9,924.3 939.9,923.2 940.9,921.9 941.8,920.6 942.8,919.5 943.8,918.5 944.7,917.1 945.7,915.8 946.7,914.6 947.7,913.5 948.7,912.9 949.6,911.9 950.6,910.7 951.6,909.5 952.6,908.1 953.6,907.2 954.6,906.6 955.6,905.0 956.6,902.7 957.6,901.1 958.6,900.8 959.6,900.5 960.6,899.3 961.7,898.1 962.7,897.1 963.7,895.8 964.7,894.9 965.7,894.2 966.8,893.1 967.8,891.7 968.8,890.5 969.8,889.4 970.9,888.5 971.9,888.1 972.9,887.3 974.0,884.9 975.0,882.9 976.1,882.4 977.1,882.1 978.1,881.5 979.2,880.2 980.2,878.3 981.3,877.3 982.3,876.6 983.4,875.4 984.4,874.5 985.5,873.5 986.5,872.6 987.6,871.8 988.6,870.7 989.7,869.3 990.7,867.7 991.8,866.7 992.9,865.9 993.9,865.2 995.0,864.3 996.1,862.6 997.1,860.9 998.2,859.8 999.3,859.3 1000.3,858.5 1001.4,857.4 1002.5,856.8 1003.6,855.7 1004.7,853.8 1005.7,852.4 1006.8,852.1 1007.9,851.1 1009.0,849.6 1010.1,849.7 1011.2,849.5 1012.3,847.9 1013.4,847.1 1014.5,847.0 1015.6,845.2 1016.7,842.8 1017.8,841.6 1018.9,840.8 1020.0,839.0 1021.1,837.6 1022.2,837.4 1023.4,836.8 1024.5,835.8 1025.6,835.2 1026.7,834.4 1027.9,832.8 1029.0,831.5 1030.1,831.6 1031.3,831.1 1032.4,829.9 1033.6,829.1 1034.7,827.7 1035.9,826.5 1037.0,825.9 1038.2,824.7 1039.4,823.7 1040.5,822.7 1041.7,821.2 1042.9,819.5 1044.1,819.0 1045.3,819.4 1046.4,818.5 1047.6,816.9 1048.8,815.9 1050.0,814.8 1051.2,812.9 1052.4,811.9 1053.6,811.6 1054.8,810.6 1056.0,809.8 1057.3,809.4 1058.5,808.7 1059.7,808.5 1060.9,808.8 1062.1,808.3 1063.3,806.8 1064.5,804.8 1065.8,802.7 1067.0,801.3 1068.2,800.2 1069.4,799.0 1070.7,799.2 1071.9,800.4 1073.1,800.5 1074.4,798.7 1075.6,796.7 1076.8,795.7 1078.1,795.0 1079.3,794.5 1080.5,793.9 1081.8,794.2 1083.0,794.4 1084.2,793.5 1085.5,792.3 1086.7,790.1 1088.0,788.6 1089.2,789.1 1090.5,788.3 1091.7,786.0 1093.0,784.2 1094.2,782.9 1095.5,782.9 1096.7,783.0 1098.0,781.7 1099.2,779.7 1100.5,778.8 1101.7,779.2 1103.0,779.4 1104.3,778.4 1105.5,776.6 1106.8,775.7 1108.0,776.0 1109.3,774.9 1110.6,773.6 1111.8,772.3 1113.1,770.4 1114.4,770.1 1115.7,770.3 1116.9,770.3 1118.2,770.1 1119.5,768.1 1120.8,765.7 1122.0,765.4 1123.3,765.7 1124.6,764.5 1125.9,762.4 1127.2,761.7 1128.5,762.4 1129.8,762.2 1131.1,760.4 1132.4,759.6 1133.7,759.1 1135.0,757.0 1136.3,757.4 1137.6,758.8 1138.9,757.4 1140.2,755.5 1141.5,754.9 1142.8,754.6 1144.2,753.4 1145.5,752.8 1146.8,752.2 1148.2,751.3 1149.5,750.8 1150.8,749.4 1152.2,748.6 1153.5,748.7 1154.9,748.3 1156.2,748.4 1157.6,748.0 1159.0,746.5 1160.3,745.2 1161.7,744.6 1163.1,744.6 1164.4,744.6 1165.8,743.9 1167.2,743.2 1168.6,742.2 1169.9,741.5 1171.3,741.2 1172.7,740.2 1174.1,740.3 1175.5,740.4 1176.9,738.7 1178.3,737.4 1179.7,736.5 1181.1,735.8 1182.5,735.4 1183.9,735.3 1185.3,735.4 1186.7,735.9 1188.1,736.3 1189.5,735.5 1191.0,734.5 1192.4,733.5 1193.8,732.3 1195.2,730.9 1196.6,730.1 1198.0,731.4 1199.5,732.5 1200.9,731.3 1202.3,730.4 1203.7,730.5 1205.2,729.1 1206.6,727.5 1208.0,726.6 1209.5,726.3 1210.9,727.5 1212.3,728.2 1213.8,726.6 1215.2,724.8 1216.6,724.5 1218.1,724.0 1219.5,723.2 1220.9,723.9 1222.4,724.5 1223.8,724.2 1225.3,723.0 1226.7,721.1 1228.1,720.8 1229.6,722.5 1231.0,722.1 1232.5,720.2 1233.9,720.0 1235.4,720.4 1236.8,720.2 1238.2,719.4 1239.7,718.6 1241.1,718.5 1242.6,718.2 1244.0,716.9 1245.5,714.5 1246.9,713.4 1248.4,713.9 1249.8,714.5 1251.2,715.5 1252.7,716.0 1254.1,715.2 1255.6,714.3 1257.0,714.4 1258.5,714.3 1259.9,713.5 1261.4,713.6 1262.8,713.5 1264.3,713.2 1265.7,712.7 1267.1,711.7 1268.6,711.1 1270.0,709.9 1271.5,708.8 1272.9,708.9 1274.4,709.1 1275.8,708.6 1277.3,708.0 1278.8,708.0 1280.2,709.2 1281.7,709.7 1283.1,709.0 1284.6,708.7 1286.0,708.7 1287.5,708.5 1289.0,706.5 1290.4,705.2 1291.9,706.0 1293.4,705.3 1294.8,703.8 1296.3,703.1 1297.8,702.8 1299.2,702.9 1300.7,703.5 1302.2,704.6 1303.6,703.8 1305.1,701.4 1306.6,700.7 1308.1,700.7 1309.5,700.5 1311.0,701.2 1312.5,701.5 1314.0,700.8 1315.5,700.8 1316.9,701.9 1318.4,702.9 1319.9,702.5 1321.4,701.5 1322.9,700.7 1324.3,700.0 1325.8,699.6 1327.3,699.4 1328.8,699.2 1330.3,698.3 1331.8,697.9 1333.3,698.8 1334.7,698.7 1336.2,697.5 1337.7,697.5 1339.2,698.3 1340.7,698.0 1342.2,697.4 1343.7,697.4 1345.1,698.0 1346.6,698.6 1348.1,697.7 1349.6,695.3 1351.1,694.6 1352.6,696.3 1354.1,697.5 1355.6,697.3 1357.0,696.7 1358.5,695.4 1360.0,694.8 1361.5,695.7 1363.0,696.0 1364.5,695.2 1366.0,694.3 1367.4,694.2 1368.9,694.5 1370.4,694.6 1371.9,693.9 1373.4,693.1 1374.9,693.7 1376.4,694.5 1377.8,693.8 1379.3,692.3 1380.8,691.6 1382.3,692.3 1383.8,692.8 1385.3,691.4 1386.8,691.3 1388.2,692.9 1389.7,693.3 1391.2,692.6 1392.7,692.7 1394.2,692.9 1395.7,692.6 1397.2,692.4 1398.7,692.6 1400.1,692.5 1401.6,691.7 1403.1,690.8 1404.6,690.4 1406.1,689.2 1407.6,688.8 1409.1,689.6 1410.6,689.7 1412.1,689.5 1413.5,689.7 1415.0,690.5 1416.5,689.6 1418.0,688.5 1419.5,689.2 1421.0,689.5 1422.5,688.8 1424.0,689.7 1425.5,690.8 1426.9,690.0 1428.4,688.4 1429.9,687.9 1431.4,687.6 1432.9,685.7 1434.4,684.4 1435.9,685.4 1437.4,687.0 1438.9,688.3 1440.3,687.6 1441.8,685.8 1443.3,685.8 1444.8,686.3 1446.3,685.9 1447.8,685.6 1449.3,686.1 1450.8,686.3 1452.3,686.3 1453.7,686.6 1455.2,687.6 1456.7,687.0 1458.2,686.0 1459.7,687.0 1461.2,687.1 1462.7,686.1 1464.2,685.3 1465.7,685.2 1467.2,685.4 1468.7,685.5 1470.2,685.9 1471.7,685.2 1473.2,684.1 1474.6,684.4 1476.1,685.4 1477.6,685.2 1479.1,684.3 1480.6,683.9 1482.1,683.6 1483.6,682.7 1485.1,683.2 1486.6,684.6 1488.1,684.3 1489.6,683.5 1491.1,683.8 1492.6,685.2 1494.1,685.5 1495.6,684.4 1497.1,683.6 1498.6,683.8 1500.1,684.9 1501.6,684.5 1503.1,683.5 1504.6,684.1 1506.1,684.2 1507.6,683.8 1509.1,683.3 1510.6,682.4 1512.1,682.5 1513.6,683.2 1515.1,682.7 1516.6,682.9 1518.1,683.9 1519.6,683.1 1521.1,681.9 1522.6,682.1 1524.1,683.2 1525.6,683.7 1527.1,683.4 1528.6,682.6 1530.1,681.4 1531.6,681.2 1533.1,681.7 1534.6,682.2 1536.1,681.7 1537.6,681.9 1539.1,683.4 1540.6,682.7 1542.1,682.2 1543.6,683.1 1545.1,683.0 1546.6,681.2 1548.1,679.1 1549.6,680.0 1551.1,681.5 1552.6,680.7 1554.1,679.4 1555.6,679.7 1557.1,681.7 1558.6,681.9 1560.1,680.8 1561.6,680.8 1563.1,680.6 1564.6,680.1 1566.1,680.5 1567.6,681.4 1569.1,682.0 1570.6,682.2 1572.1,681.2 1573.6,680.6 1575.1,680.6 1576.6,679.9 1578.1,679.8 1579.6,680.8 1581.1,680.7 1582.6,680.7 1584.1,680.5 1585.6,680.0 1587.1,680.6 1588.6,680.8 1590.0,680.5 1591.5,680.1 1593.0,678.7 1594.5,677.8 1596.0,678.5 1597.5,679.4 1599.0,680.3 1600.5,680.1 1602.0,679.4 1603.5,680.1 1605.0,681.2 1606.5,681.2 1608.0,680.4 1609.5,679.8 1611.0,679.3 1612.5,679.4 1614.0,679.7 1615.5,679.5 1617.0,678.9 1618.5,677.7 1620.0,676.6 1621.5,676.8 1623.0,678.5 1624.5,680.3 1626.0,680.0 1627.5,677.9 1629.0,677.5 1630.5,678.9 1632.0,678.8 1633.5,678.2 1635.0,679.0 1636.5,679.6 1638.0,679.8 1639.5,679.6 1641.0,679.4 1642.5,678.6 1644.0,677.6 1645.5,677.5 1647.0,678.0 1648.5,678.2 1650.0,677.1 1651.5,676.8 1653.0,678.5 1654.5,679.9 1656.0,680.1 1657.5,678.9 1659.0,677.0 1660.5,676.6 1662.0,677.2 1663.5,676.8 1665.0,676.2 1666.5,677.1 1668.0,677.7 1669.5,677.3 1671.0,678.0 1672.5,678.8 1674.0,678.7 1675.5,679.1 1677.0,679.2 1678.5,678.7 1680.0,678.1 1681.5,678.1 1683.0,678.4 1684.5,677.6 1686.0,677.3 1687.5,677.7 1689.0,677.6 1690.5,678.2 1692.0,678.8 1693.5,678.2 1695.0,678.2 1696.5,678.8 1698.0,678.1 1699.5,676.3 1701.0,676.6 1702.5,678.4 1704.0,677.7 1705.5,675.7 1707.0,675.8 1708.5,676.8 1710.0,677.2 1711.5,677.8 1713.0,678.2 1714.5,677.7 1716.0,677.3 1717.5,678.6 1719.0,679.3 1720.5,678.5 1722.0,678.9 1723.5,679.4 1725.0,678.7 1726.5,677.5 1728.0,676.5 1729.5,677.0 1731.0,678.5 1732.5,679.4 1734.0,679.6 1735.5,679.5 1737.0,678.8 1738.5,677.4 1740.0,676.8 1741.5,677.7 1743.0,678.4 1744.5,677.5 1746.0,676.5 1747.5,676.3 1749.0,676.5 1750.5,677.0 1752.0,677.0 1753.5,677.5 1755.0,678.1 1756.5,678.7 1758.0,678.6 1759.5,676.7 1761.0,676.1 1762.5,678.3 1764.0,680.0 1765.5,679.7 1767.0,678.9 1768.5,678.5 1770.0,677.7 1771.5,676.7 1773.0,677.1 1774.5,677.8 1776.0,678.4 1777.5,678.6 1779.0,677.2 1780.5,677.4 1782.0,678.3 1783.5,677.4 1785.0,676.2 1786.5,676.0 1788.0,677.3 1789.5,678.9 1791.0,679.0 1792.5,678.2 1794.0,677.9 1795.5,678.3 1797.0,677.8 1798.5,676.9 1800.0,677.1 1801.5,678.2 1803.0,678.7 1804.5,678.3 1806.0,678.9 1807.5,679.2 1809.0,677.3 1810.5,676.7 1812.0,678.1 1813.5,678.3 1815.0,677.8 1816.5,677.6 1818.0,677.6 1819.5,677.6 1821.0,677.7 1822.5,677.5 1824.0,676.4 1825.5,676.3 1827.0,676.9 1828.5,677.2 1830.0,677.6 1831.5,677.3 1833.0,676.8 1834.5,676.9 1836.0,676.2 1837.5,675.2 1839.0,675.2 1840.5,675.7 1842.0,676.3 1843.5,677.2 1845.0,677.8 1846.5,678.3 1848.0,678.9 1849.5,678.4 1851.0,677.7 1852.5,678.3 1854.0,678.0 1855.5,676.7 1857.0,676.9 1858.5,677.5 1860.0,677.4 1861.5,677.3 1863.0,677.2 1864.5,676.7 1866.0,676.3 1867.5,676.0 1869.0,676.1 1870.5,675.6 1872.0,674.9 1873.5,675.9 1875.0,677.1 1876.5,676.6 1878.0,676.0 1879.5,675.6 1881.0,674.6 1882.5,674.2 1884.0,674.6 1885.5,675.4 1887.0,675.5 1888.5,675.2 1890.0,674.9 1891.5,673.8 1893.0,673.7 1894.4,675.0 1895.9,675.5 1897.4,673.9 1898.9,672.9 1900.4,674.1 1901.9,674.3 1903.4,673.2 1904.9,672.9 1906.4,673.5 1907.9,674.5 1909.4,674.3 1910.9,674.3 1912.4,675.5 1913.9,675.0 1915.4,674.1 1916.9,674.6 1918.4,675.4 1919.9,676.4 1921.4,675.7 1922.9,674.0 1924.4,673.3 1925.9,673.3 1927.4,673.7 1928.9,674.1 1930.4,674.3 1931.9,674.9 1933.4,674.4 1934.9,674.1 1936.4,673.7 1937.9,672.2 1939.4,672.5 1940.9,673.9 1942.4,674.0 1943.9,673.9 1945.4,673.8 1946.9,673.3 1948.4,672.8 1949.9,671.8 1951.4,672.2 1952.9,673.6 1954.4,673.2 1955.9,673.3 1957.4,674.9 1958.9,674.9 1960.4,673.5 1961.9,673.0 1963.4,673.0 1964.9,673.1 1966.4,673.8 1967.9,674.0 1969.4,674.1 1970.9,674.6 1972.4,675.2 1973.9,676.0 1975.4,674.9 1976.9,673.2 1978.4,673.2 1979.9,672.5 1981.4,672.3 1982.9,673.3 1984.4,673.2 1985.9,673.4 1987.4,674.0 1988.9,673.1 1990.4,672.7 1991.9,673.9 1993.4,674.8 1994.9,673.8 1996.4,672.2 1997.9,672.2 1999.4,673.8 2000.9,675.2 2002.4,675.2 2003.9,674.9 2005.4,674.5 2006.9,673.7 2008.4,673.7 2009.9,673.5 2011.4,672.6 2012.9,673.0 2014.4,673.2 2015.9,672.8 2017.4,673.6 2018.9,674.4 2020.4,673.9 2021.9,672.9 2023.4,673.4 2024.9,674.5 2026.4,673.8 2027.9,672.7 2029.4,673.3 2030.9,674.0 2032.4,673.5 2033.9,674.1 2035.4,674.9 2036.9,673.6 2038.4,672.1 2039.9,671.5 2041.4,672.2 2042.9,673.4 2044.4,672.5 2045.9,671.1 2047.4,671.2 2048.9,672.3 2050.4,672.6 2051.9,672.2 2053.4,672.3 2054.9,672.2 2056.4,672.4 2057.9,672.8 2059.4,672.5 2060.9,671.8 2062.4,671.8 2063.9,671.6 2065.4,671.0 2066.9,671.5 2068.4,672.6 2069.9,672.6 2071.4,671.9 2072.9,671.4 2074.4,671.2 2075.9,670.8 2077.4,671.1 2078.9,671.7 2080.4,671.2 2081.9,670.4 2083.4,669.7 2084.9,669.6 2086.4,670.7 2087.9,671.0 2089.4,670.5 2090.9,670.2 2092.4,670.6 2093.9,671.6 2095.4,671.3 2096.9,670.5 2098.4,670.9 2099.9,670.7 2101.4,670.2 2102.9,670.7 2104.4,670.5 2105.9,670.0 2107.4,670.0 2108.9,670.5 2110.4,670.7 2111.9,670.1 2113.4,669.5 2114.9,669.9 2116.4,671.2 2117.9,671.7 2119.4,671.6 2120.9,671.7 2122.4,670.7 2123.9,670.0 2125.4,670.3 2126.9,670.2 2128.4,671.0 2129.9,671.5 2131.4,670.8 2132.9,671.5 2134.4,672.7 2135.9,672.0 2137.4,671.4 2138.9,671.5 2140.4,671.0 2141.8,670.9 2143.3,670.2 2144.8,669.7 2146.3,670.7 2147.8,670.2 2149.3,669.9 2150.8,671.0 2152.3,670.8 2153.8,670.2 2155.3,670.3 2156.8,670.0 2158.3,669.6 2159.8,669.4 2161.3,670.1 2162.8,671.3 2164.3,671.7 2165.8,672.0 2167.3,672.2 2168.8,671.4 2170.3,670.7 2171.8,671.6 2173.3,672.6 2174.8,672.3 2176.3,671.7 2177.8,671.6 2179.3,671.8 2180.8,671.9 2182.3,671.6 2183.8,671.1 2185.3,670.5 2186.8,670.7 2188.3,671.8 2189.8,672.7 2191.3,672.6 2192.8,671.6 2194.3,671.2 2195.8,672.0 2197.3,671.7 2198.8,670.9 2200.3,671.8 2201.8,673.0 2203.3,672.7 2204.8,670.8 2206.3,670.4 2207.8,671.0 2208.0,670.5" stroke="#000" stroke-width="6.4"/>
</g>
<g font-size="86">
<text x="332" y="1450.5" text-anchor="end">0</text>
<text x="332" y="1162.1" text-anchor="end">4</text>
<text x="332" y="873.7" text-anchor="end">8</text>
<text x="332" y="585.3" text-anchor="end">12</text>
<text x="332" y="296.9" text-anchor="end">16</text>
<text x="541.2" y="1522" text-anchor="middle">0.0</text>
<text x="1017.2" y="1522" text-anchor="middle">0.4</text>
<text x="1493.2" y="1522" text-anchor="middle">0.8</text>
<text x="1969.2" y="1522" text-anchor="middle">1.2</text>
</g>
<g stroke-width="7" stroke-linecap="round">
<line x1="384" y1="122" x2="535" y2="122" stroke="#ff0000"/>
<line x1="384" y1="246" x2="535" y2="246" stroke="#000"/>
</g>
<text transform="translate(551.68,145.00) scale(0.9899,1)" font-size="80">WO</text>
<text transform="translate(689.66,174.80) scale(1.0275,1)" font-size="45">3</text>
<text transform="translate(715.27,145.00) scale(0.9797,1)" font-size="80">/Ag/TiO</text>
<text transform="translate(987.82,174.80) scale(1.0494,1)" font-size="45">2</text>
<text transform="translate(1007.97,147.50) scale(0.9989,1)" font-size="91" font-weight="normal">+</text>
<text transform="translate(1075.82,145.00) scale(0.9853,1)" font-size="80">glucose</text>
<text transform="translate(1342.02,145.00) scale(0.9684,1)" font-size="80">back</text>
<text transform="translate(551.68,269.20) scale(0.9899,1)" font-size="80">WO</text>
<text transform="translate(689.66,299.00) scale(1.0275,1)" font-size="45">3</text>
<text transform="translate(715.27,269.20) scale(0.9797,1)" font-size="80">/Ag/TiO</text>
<text transform="translate(987.82,299.00) scale(1.0494,1)" font-size="45">2</text>
<text transform="translate(1007.97,271.70) scale(0.9989,1)" font-size="91" font-weight="normal">+</text>
<text transform="translate(1075.82,269.20) scale(0.9853,1)" font-size="80">glucose</text>
<text transform="translate(1341.64,269.20) scale(0.9609,1)" font-size="80">front</text>
<text transform="translate(988.47,1687.50) scale(1.0079,1)" font-size="89">E</text>
<text transform="translate(1071.80,1687.50) scale(0.9382,1)" font-size="89" font-weight="normal">/</text>
<text transform="translate(1120.42,1687.50) scale(0.9779,1)" font-size="89">V</text>
<text transform="translate(1208.80,1687.50) scale(0.9888,1)" font-size="89">vs</text>
<text transform="translate(1310.61,1687.50) scale(1.0201,1)" font-size="89">Ag/AgCl</text>
<text transform="translate(127.30,1041.61) rotate(-90) scale(0.9513,1)" font-size="88">j</text>
<text transform="translate(127.30,986.70) rotate(-90) scale(1.0512,1)" font-size="88" font-weight="normal">/</text>
<text transform="translate(127.30,938.63) rotate(-90) scale(0.9879,1)" font-size="88">m</text>
<text transform="translate(127.30,860.57) rotate(-90) scale(0.9728,1)" font-size="92">A</text>
<text transform="translate(127.30,772.36) rotate(-90) scale(1.0162,1)" font-size="88">cm</text>
<text transform="translate(77.90,657.59) rotate(-90) scale(1.0260,1)" font-size="55" font-weight="normal">-2</text>
</svg>
</body></html>
